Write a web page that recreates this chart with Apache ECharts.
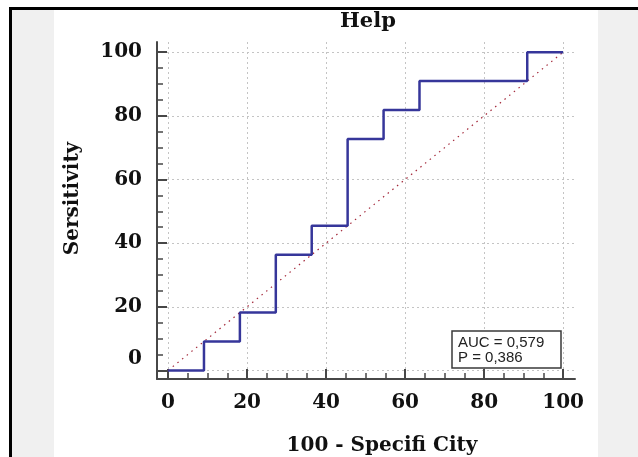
<!DOCTYPE html>
<html>
<head>
<meta charset="utf-8">
<script src="https://cdn.jsdelivr.net/npm/echarts@6/dist/echarts.min.js"></script>
<style>
  html, body { margin: 0; padding: 0; background: #fff; }
  #wrap { position: relative; width: 638px; height: 457px; overflow: hidden; }
  .panel { position: absolute; background: #f0f0f0; }
  .rule { position: absolute; background: #000; }
  #chart { position: absolute; left: 0; top: 0; width: 638px; height: 457px; }
</style>
</head>
<body>
<div id="wrap">
  <div class="panel" style="left:11px;top:9px;width:43px;height:448px"></div>
  <div class="panel" style="left:598px;top:9px;width:40px;height:448px"></div>
  <div class="rule" style="left:9px;top:7px;width:629px;height:2.5px"></div>
  <div class="rule" style="left:9px;top:7px;width:2.5px;height:450px"></div>
  <div id="chart"></div>
</div>
<script>
// ROC steps (100 - specificity, sensitivity)
const rocX = [0, 9.09, 18.18, 27.27, 36.36, 45.45, 54.55, 63.64, 90.91, 100];
const rocY = [0, 9.09, 18.18, 36.36, 45.45, 72.73, 81.82, 90.91, 100, 100];
const refX = [0, 100];
const refY = [0, 100];
const majorTicks = [0, 20, 40, 60, 80, 100];
const minorTicks = [5, 10, 15, 25, 30, 35, 45, 50, 55, 65, 70, 75, 85, 90, 95];
const statLines = ["AUC = 0,579", "P = 0,386"];

const chart = echarts.init(document.getElementById("chart"), null, { renderer: "canvas" });

const axisColor = "#474747";
const serif = "DejaVu Serif";

function majorAxis(min, max, isY) {
  return {
    type: "value",
    position: isY ? "left" : "bottom",
    min: min,
    max: max,
    axisLine: { show: true, onZero: false, lineStyle: { color: axisColor, width: 2 } },
    axisTick: {
      show: true,
      inside: true,
      length: 10,
      customValues: majorTicks,
      lineStyle: { color: axisColor, width: 2 }
    },
    axisLabel: {
      customValues: majorTicks,
      margin: isY ? 15 : 14,
      fontFamily: serif,
      fontWeight: "bold",
      fontSize: 20,
      color: "#111",
      formatter: function (v) {
        return isY && v === 0 ? "{z|0}" : String(v);
      },
      rich: {
        z: { fontFamily: serif, fontWeight: "bold", fontSize: 20, color: "#111", padding: [0, 0, 24, 0] }
      }
    },
    splitLine: { show: true, lineStyle: { color: "#c4c4c4", width: 1, type: [2, 3] } }
  };
}

function minorAxis(min, max, isY) {
  return {
    type: "value",
    position: isY ? "left" : "bottom",
    offset: 0,
    min: min,
    max: max,
    axisLine: { show: false, onZero: false },
    axisTick: {
      show: true,
      inside: true,
      length: 6,
      customValues: minorTicks,
      lineStyle: { color: axisColor, width: 1.5 }
    },
    axisLabel: { show: false },
    splitLine: { show: false }
  };
}

const xMain = majorAxis(-2.8, 103, false);
xMain.name = "100 - Specifi City";
xMain.nameLocation = "middle";
xMain.nameGap = 57;
xMain.nameTextStyle = { fontFamily: serif, fontWeight: "bold", fontSize: 20, color: "#111", padding: [0, 0, 0, 32] };

const yMain = majorAxis(-2.7, 103.2, true);
yMain.name = "Sersitivity";
yMain.nameLocation = "middle";
yMain.nameGap = 74;
yMain.nameTextStyle = { fontFamily: serif, fontWeight: "bold", fontSize: 20, color: "#111", padding: [0, 0, 0, 24] };

const option = {
  animation: false,
  backgroundColor: "transparent",
  title: [
    {
      text: "Help",
      left: 340,
      top: 11,
      padding: 0,
      textStyle: { fontFamily: serif, fontWeight: "bold", fontSize: 21, color: "#111" }
    },
    {
      text: statLines.join("\n"),
      left: 452,
      top: 331,
      padding: [4, 17, 3, 6],
      borderColor: "#3a3a3a",
      borderWidth: 1.5,
      backgroundColor: "#fff",
      textStyle: { fontFamily: "Liberation Sans", fontWeight: "normal", fontSize: 15, lineHeight: 15, color: "#222" }
    }
  ],
  grid: { left: 157, right: 63, top: 42, bottom: 78, outerBoundsMode: "none" },
  xAxis: [xMain, minorAxis(-2.8, 103, false)],
  yAxis: [yMain, minorAxis(-2.7, 103.2, true)],
  series: [
    {
      type: "line",
      data: refX.map(function (x, i) { return [x, refY[i]]; }),
      symbol: "none",
      lineStyle: { color: "#a3283a", width: 1.2, type: [1.5, 4.5] },
      z: 2
    },
    {
      type: "line",
      step: "end",
      data: rocX.map(function (x, i) { return [x, rocY[i]]; }),
      symbol: "none",
      lineStyle: { color: "#36369a", width: 2.5 },
      z: 3
    }
  ]
};

chart.setOption(option);
</script>
</body>
</html>
